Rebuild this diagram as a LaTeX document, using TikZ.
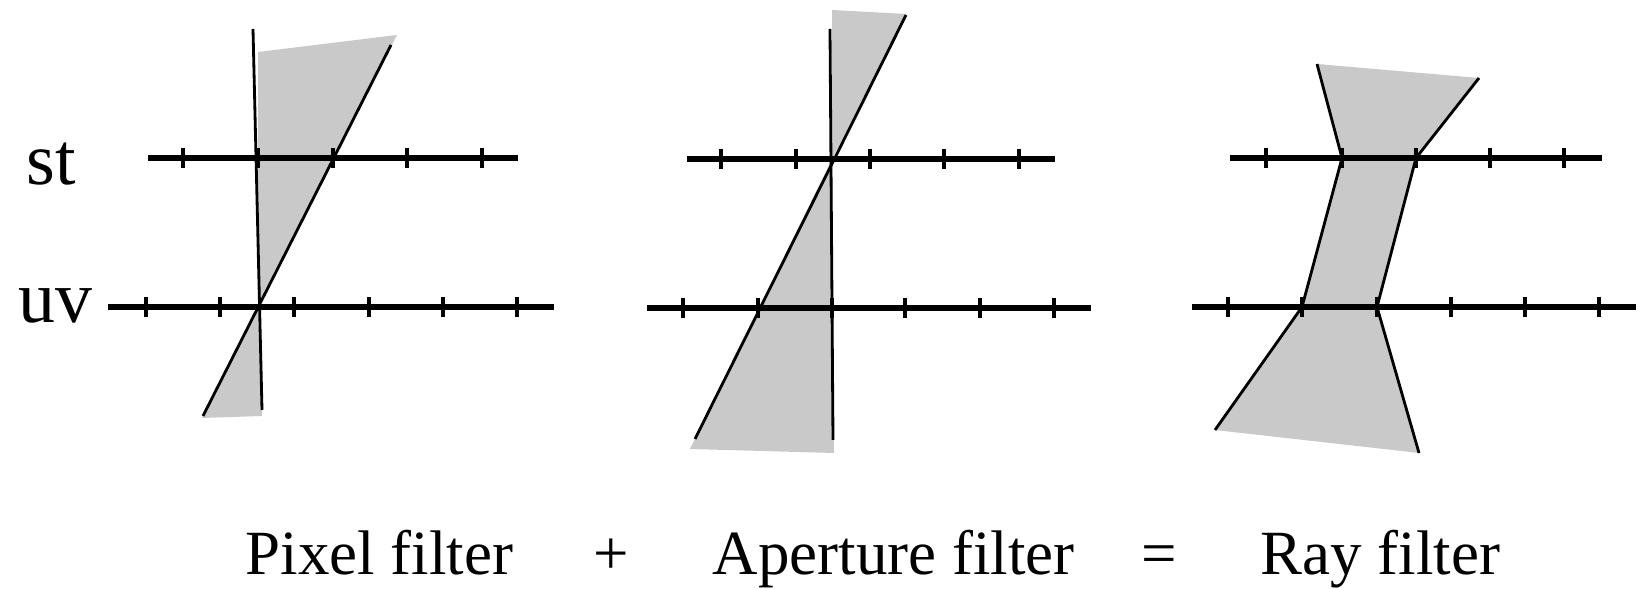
\documentclass[tikz,border=0pt]{standalone}
\usepackage{fontspec}
\setmainfont{Liberation Serif}
\definecolor{regiongray}{RGB}{201,201,201}
\begin{document}
\begin{tikzpicture}[x=0.01cm,y=-0.01cm,
  axisline/.style={line width=1.5pt,line cap=butt},
  tickmark/.style={line width=1.35pt},
  rayline/.style={line width=0.8pt},
  region/.style={fill=regiongray,draw=none},
  lbl/.style={inner sep=0pt,font=\fontsize{21}{25}\selectfont},
  captiontext/.style={inner sep=0pt,anchor=base,font=\fontsize{17.9}{21}\selectfont}]
\useasboundingbox (0,0) rectangle (1636,589);

% ---------- Panel 1: pixel filter ----------
\fill[region] (258,52) -- (397,35) -- (258,307) -- cycle;
\fill[region] (258,307) -- (202,418) -- (262,416) -- cycle;
\draw[axisline] (148,158) -- (518,158);
\foreach \x in {183,258,333,407,482} \draw[tickmark] (\x,148) -- (\x,168);
\draw[axisline] (108,307) -- (554,307);
\foreach \x in {146,220,294,369,443,517} \draw[tickmark] (\x,297) -- (\x,317);
\coordinate (p1a) at (253,29); \coordinate (p1b) at (262,410);
\coordinate (p1c) at (391,45); \coordinate (p1d) at (203,416);
\draw[rayline] (p1a) -- (p1b);
\draw[rayline] (p1c) -- (p1d);

% ---------- Panel 2: aperture filter ----------
\fill[region] (832,10) -- (906,14) -- (832,159) -- cycle;
\fill[region] (832,159) -- (690,449) -- (834,453) -- cycle;
\draw[axisline] (687,159) -- (1055,159);
\foreach \x in {721,796,870,944,1019} \draw[tickmark] (\x,149) -- (\x,169);
\draw[axisline] (647,308) -- (1091,308);
\foreach \x in {683,758,832,905,980,1054} \draw[tickmark] (\x,298) -- (\x,318);
\coordinate (p2a) at (830,29); \coordinate (p2b) at (833,440);
\coordinate (p2c) at (906,15); \coordinate (p2d) at (695,439);
\draw[rayline] (p2a) -- (p2b);
\draw[rayline] (p2c) -- (p2d);

% ---------- Panel 3: ray filter ----------
\fill[region] (1317,64) -- (1479,78) -- (1416,158) -- (1377,307) -- (1419,453)
  -- (1215,430) -- (1302,307) -- (1342,158) -- cycle;
\draw[axisline] (1230,158) -- (1602,158);
\foreach \x in {1266,1342,1416,1490,1564} \draw[tickmark] (\x,148) -- (\x,168);
\draw[axisline] (1192,307) -- (1636,307);
\foreach \x in {1228,1302,1377,1451,1525,1599} \draw[tickmark] (\x,297) -- (\x,317);
\coordinate (l0) at (1317,64); \coordinate (l1) at (1342,158);
\coordinate (l2) at (1302,307); \coordinate (l3) at (1215,430);
\coordinate (r0) at (1479,78); \coordinate (r1) at (1416,158);
\coordinate (r2) at (1377,307); \coordinate (r3) at (1419,453);
\draw[rayline] (l0) -- (l1) -- (l2) -- (l3);
\draw[rayline] (r0) -- (r1) -- (r2) -- (r3);

% ---------- Labels ----------
\node[lbl,anchor=base west] (st) at (26,185) {st};
\node[lbl,anchor=base west] (uv) at (18,323) {uv};
\node[captiontext,anchor=base west] (pix) at (245,575) {Pixel filter};
\node[captiontext] (plus) at (611,575) {+};
\node[captiontext,anchor=base west] (ape) at (712,575) {Aperture filter};
\node[captiontext] (eq) at (1159,575) {=};
\node[captiontext,anchor=base west] (ray) at (1260,575) {Ray filter};
\end{tikzpicture}
\end{document}
